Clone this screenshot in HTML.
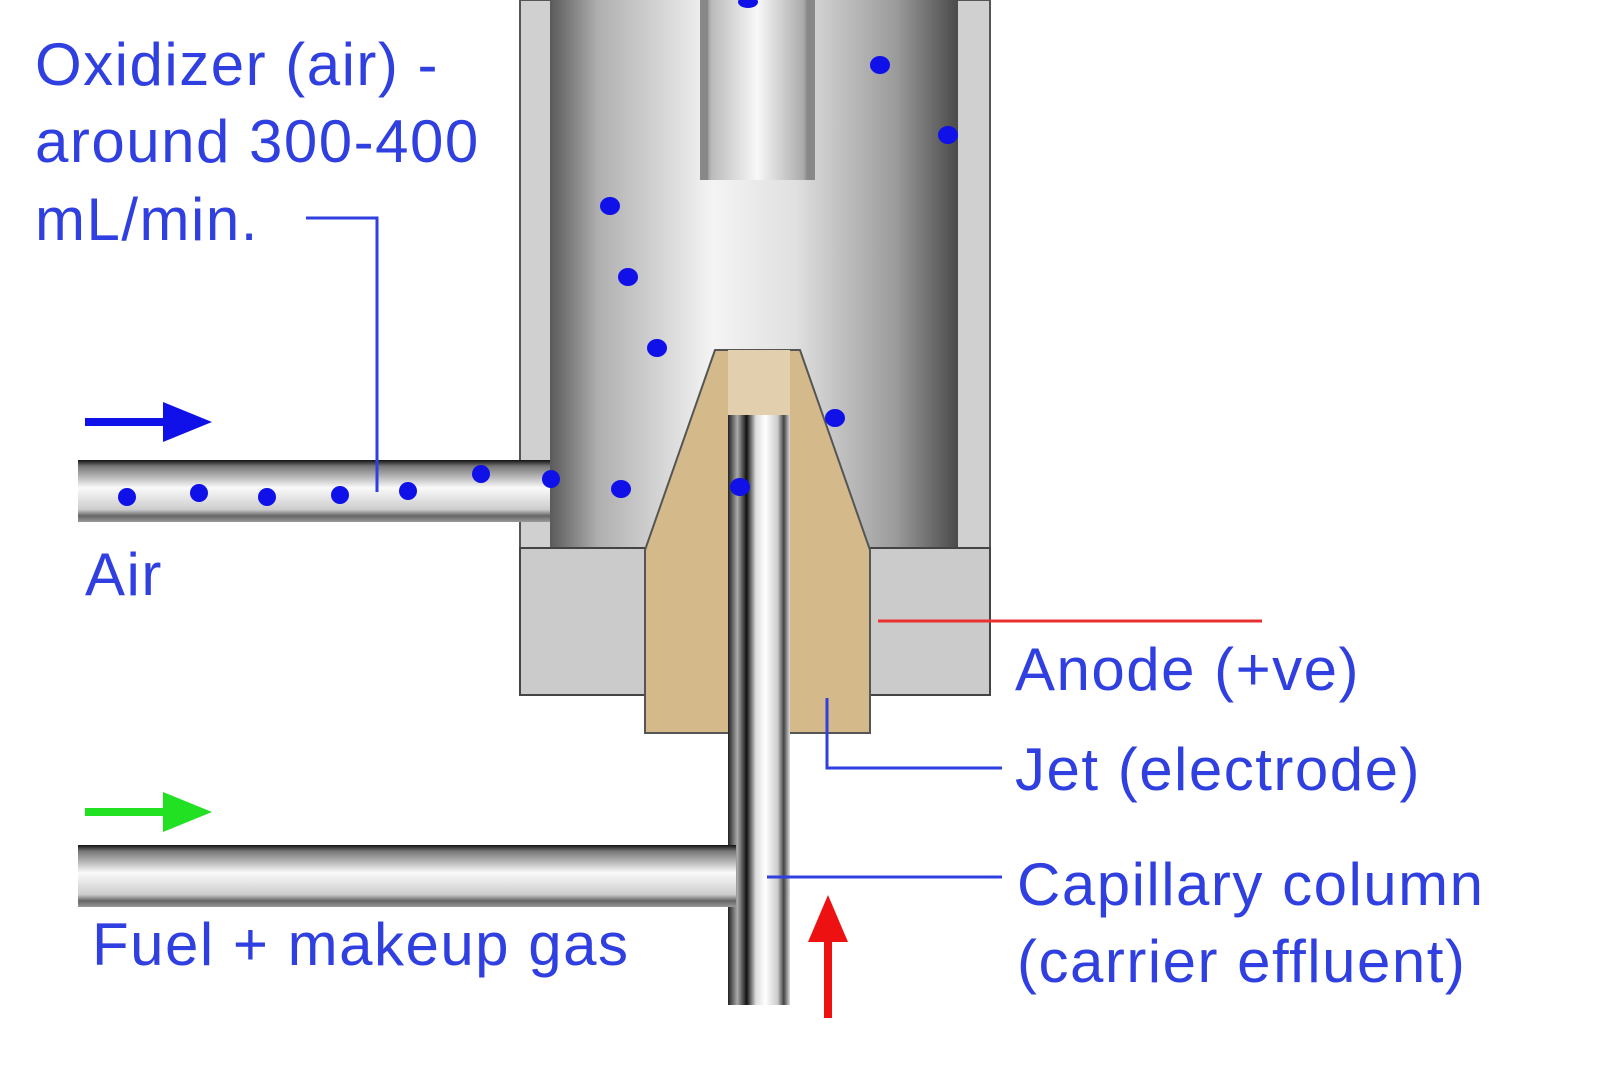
<!DOCTYPE html>
<html><head><meta charset="utf-8"><style>
html,body{margin:0;padding:0;background:#fff;}
svg text{font-family:"Liberation Sans",sans-serif;fill:#2f3fe0;font-size:60px;letter-spacing:1.5px;}
</style></head><body>
<svg width="1600" height="1060" viewBox="0 0 1600 1060" xmlns="http://www.w3.org/2000/svg">
<defs>
<linearGradient id="ch" x1="0" x2="1" y1="0" y2="0">
<stop offset="0" stop-color="#5a5a5a"/><stop offset="0.12" stop-color="#b0b0b0"/><stop offset="0.4" stop-color="#f4f4f4"/><stop offset="0.6" stop-color="#e0e0e0"/><stop offset="0.85" stop-color="#9a9a9a"/><stop offset="1" stop-color="#4a4a4a"/>
</linearGradient>
<linearGradient id="tv" x1="0" x2="0" y1="0" y2="1">
<stop offset="0" stop-color="#111"/><stop offset="0.1" stop-color="#777"/><stop offset="0.45" stop-color="#fafafa"/><stop offset="0.8" stop-color="#ccc"/><stop offset="0.9" stop-color="#666"/><stop offset="1" stop-color="#999"/>
</linearGradient>
<linearGradient id="th" x1="0" x2="1" y1="0" y2="0">
<stop offset="0" stop-color="#222"/><stop offset="0.15" stop-color="#aaa"/><stop offset="0.3" stop-color="#111"/><stop offset="0.45" stop-color="#ddd"/><stop offset="0.6" stop-color="#fff"/><stop offset="0.8" stop-color="#ccc"/><stop offset="0.9" stop-color="#444"/><stop offset="1" stop-color="#ddd"/>
</linearGradient>
<linearGradient id="col" x1="0" x2="1" y1="0" y2="0">
<stop offset="0" stop-color="#555"/><stop offset="0.1" stop-color="#bbb"/><stop offset="0.5" stop-color="#f8f8f8"/><stop offset="0.9" stop-color="#aaa"/><stop offset="1" stop-color="#444"/>
</linearGradient>
</defs>
<rect x="520" y="0" width="470" height="548" fill="#d0d0d0" stroke="#555" stroke-width="2"/>
<rect x="550" y="0" width="408" height="548" fill="url(#ch)"/>
<rect x="700" y="0" width="115" height="180" fill="url(#col)"/>
<rect x="700" y="0" width="8" height="180" fill="#888"/>
<rect x="807" y="0" width="8" height="180" fill="#888"/>
<rect x="520" y="548" width="470" height="147" fill="#cbcbcb" stroke="#444" stroke-width="2"/>
<polygon points="715,350 800,350 870,550 870,733 645,733 645,550" fill="#d4b98a" stroke="#555" stroke-width="2"/>
<rect x="728" y="350" width="62" height="65" fill="#e2cfae"/>
<rect x="728" y="415" width="62" height="590" fill="url(#th)"/>
<rect x="78" y="460" width="472" height="62" fill="url(#tv)"/>
<rect x="78" y="845" width="658" height="62" fill="url(#tv)"/>
<g fill="#1010e8">
<ellipse cx="748" cy="2" rx="10" ry="6"/><ellipse cx="880" cy="65" rx="10" ry="9"/><ellipse cx="948" cy="135" rx="10" ry="9"/>
<ellipse cx="610" cy="206" rx="10" ry="9"/><ellipse cx="628" cy="277" rx="10" ry="9"/><ellipse cx="657" cy="348" rx="10" ry="9"/>
<ellipse cx="835" cy="418" rx="10" ry="9"/><ellipse cx="621" cy="489" rx="10" ry="9"/><ellipse cx="740" cy="487" rx="10" ry="9"/>
<circle cx="127" cy="497" r="9"/><circle cx="199" cy="493" r="9"/><circle cx="267" cy="497" r="9"/><circle cx="340" cy="495" r="9"/><circle cx="408" cy="491" r="9"/><circle cx="481" cy="474" r="9"/><circle cx="551" cy="479" r="9"/>
</g>
<polyline points="306,218 377,218 377,492" fill="none" stroke="#2f3fe0" stroke-width="3"/>
<line x1="878" y1="621" x2="1262" y2="621" stroke="#e83030" stroke-width="3"/>
<polyline points="827,698 827,768 1002,768" fill="none" stroke="#2f3fe0" stroke-width="3"/>
<line x1="767" y1="877" x2="1002" y2="877" stroke="#2f3fe0" stroke-width="3"/>
<line x1="85" y1="422" x2="170" y2="422" stroke="#1010e8" stroke-width="8"/>
<polygon points="163,402 212,422 163,442" fill="#1010e8"/>
<line x1="85" y1="812" x2="170" y2="812" stroke="#22e022" stroke-width="8"/>
<polygon points="163,792 212,812 163,832" fill="#22e022"/>
<line x1="828" y1="935" x2="828" y2="1018" stroke="#ee1111" stroke-width="8"/>
<polygon points="808,942 828,895 848,942" fill="#ee1111"/>
<text x="35" y="85">Oxidizer (air) -</text>
<text x="35" y="162">around 300-400</text>
<text x="35" y="240">mL/min.</text>
<text x="85" y="595">Air</text>
<text x="1015" y="690">Anode (+ve)</text>
<text x="1015" y="790">Jet (electrode)</text>
<text x="1017" y="905">Capillary column</text>
<text x="1017" y="982">(carrier effluent)</text>
<text x="92" y="965">Fuel + makeup gas</text>
</svg>
</body></html>
